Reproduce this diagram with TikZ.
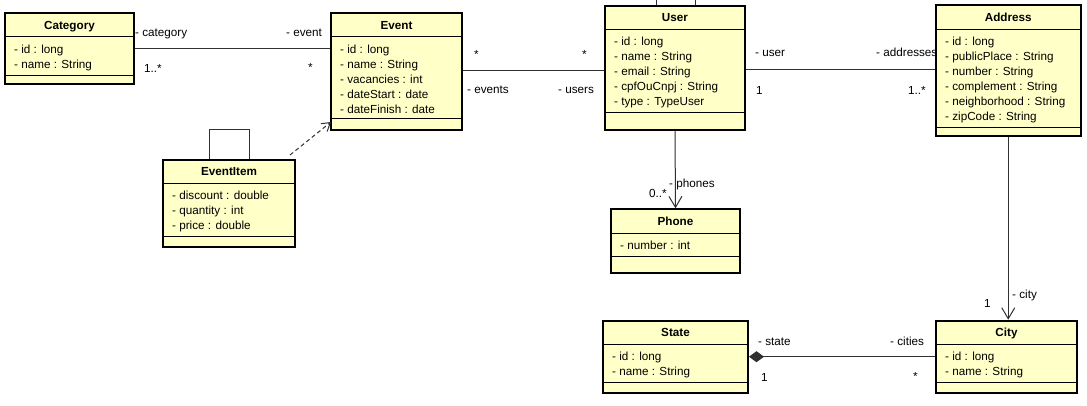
\documentclass[tikz,border=0pt]{standalone}
\usepackage{fontspec}
\setmainfont{Liberation Sans}
\usetikzlibrary{arrows.meta,calc}
\definecolor{clsfill}{HTML}{FFFFC8}
\definecolor{lnk}{HTML}{303030}
\tikzset{
  cls/.style={draw=black, line width=2pt, fill=clsfill, inner sep=0pt, rectangle},
  divline/.style={draw=black, line width=1pt},
  ttl/.style={font=\fontsize{11.7}{14}\selectfont\bfseries, anchor=base, inner sep=0pt},
  attr/.style={font=\fontsize{11.7}{14}\selectfont, anchor=base west, inner sep=0pt},
  lbl/.style={font=\fontsize{11.7}{14}\selectfont, anchor=base west, inner sep=0pt},
  assoc/.style={draw=lnk, line width=1pt},
  nav/.style={assoc, -{Straight Barb[length=11pt,width=13pt]}},
  depend/.style={assoc, dash pattern=on 4pt off 3pt, -{Straight Barb[length=8pt,width=10pt]}},
}
\newcommand\umlclass[9]{%
  \node[cls, minimum width={(#4-#2)*1pt}, minimum height={(#5-#3)*1pt}] (#1) at ({(#2+#4)/2},{(#3+#5)/2}) {};
  \draw[divline] (#2,#6) -- (#4,#6) (#2,#7) -- (#4,#7);
  \node[ttl] (#1-t) at ({(#2+#4)/2},{(#3+#6)/2+4.3}) {#8};
  \foreach \t [count=\i] in {#9} {\node[attr] (#1-a\i) at ({#2+9},{#6+16.5+(\i-1)*15}) {\t};}
}
\begin{document}
\begin{tikzpicture}[x=1pt,y=-1pt]
\useasboundingbox (0,0) rectangle (1087,405);
\clip (0,0) rectangle (1087,405);
\fill[white] (0,0) rectangle (1087,405);

\umlclass{cat}{5}{13}{134}{84}{36.7}{75}{Category}{- id : long, - name : String}
\umlclass{ev}{331}{13}{462}{130}{36.7}{118}{Event}{- id : long, - name : String, - vacancies : int, - dateStart : date, - dateFinish : date}
\umlclass{ei}{163}{160}{295}{246.5}{183}{236}{EventItem}{- discount : double, - quantity : int, - price : double}
\umlclass{user}{605}{6}{745}{130}{29}{112.5}{User}{- id : long, - name : String, - email : String, - cpfOuCnpj : String, - type : TypeUser}
\umlclass{addr}{936}{5}{1080.5}{136}{29.3}{127}{Address}{- id : long, - publicPlace : String, - number : String, - complement : String, - neighborhood : String, - zipCode : String}
\umlclass{phone}{611}{209.3}{740}{273.3}{233.3}{256.7}{Phone}{- number : int}
\umlclass{state}{603}{320.7}{748}{392.7}{344}{382.7}{State}{- id : long, - name : String}
\umlclass{city}{936}{320.7}{1077}{392.7}{344}{382.7}{City}{- id : long, - name : String}

% connectors
\draw[assoc] (cat.east) -- (cat.east -| ev.west);
\draw[assoc] ([yshift=1pt]ev.east) -- ([yshift=1pt]ev.east -| user.west);
\draw[assoc] ([yshift=-1.5pt]user.east) -- ([yshift=-1.5pt]user.east -| addr.west);
\draw[nav] (user.south) -- (phone.north);
\draw[nav] (addr.south) -- (addr.south |- city.north);
\draw[assoc, {Diamond[length=15pt,width=11pt]}-] (state.east) -- (state.east -| city.west);
\coordinate (dep1) at ($(ei.north east)+(-6,-4)$);
\coordinate (dep2) at ($(ev.south west)+(1,-9)$);
\draw[depend] (dep1) -- (dep2);
\draw[assoc] ([xshift=-20pt]ei.north) -- ++(0,-30) -- ++(40,0) -- ([xshift=20pt]ei.north);
\draw[assoc] ([xshift=-19pt]user.north) -- ++(0,-20) -- ++(39,0) -- ([xshift=20pt]user.north);

% labels
\node[lbl] (l1) at (135,36.6) {- category};
\node[lbl] (l2) at (286,36.5) {- event};
\node[lbl] (l3) at (144,72.3) {1..*};
\node[lbl] (l4) at (308,71) {*};
\node[lbl] (l5) at (474,58.7) {*};
\node[lbl] (l6) at (582,58.7) {*};
\node[lbl] (l7) at (467,93.6) {- events};
\node[lbl] (l8) at (558,93.5) {- users};
\node[lbl] (l9) at (755,56.6) {- user};
\node[lbl] (l10) at (876,56.5) {- addresses};
\node[lbl] (l11) at (756,94.3) {1};
\node[lbl] (l12) at (908,94.3) {1..*};
\node[lbl] (l13) at (669,187.6) {- phones};
\node[lbl] (l14) at (649,197.6) {0..*};
\node[lbl] (l15) at (1012,298.6) {- city};
\node[lbl] (l16) at (984,307.6) {1};
\node[lbl] (l17) at (758,345.3) {- state};
\node[lbl] (l18) at (890,345.3) {- cities};
\node[lbl] (l19) at (761,381) {1};
\node[lbl] (l20) at (913,380.3) {*};
\end{tikzpicture}
\end{document}
